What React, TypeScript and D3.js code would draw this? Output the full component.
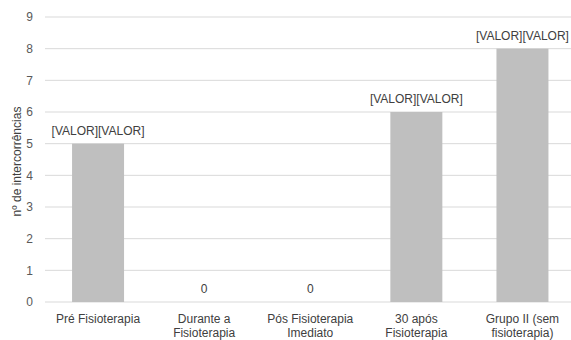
import React from "react";
import * as d3 from "d3";

const categories: string[][] = [
  ["Pré Fisioterapia"],
  ["Durante a", "Fisioterapia"],
  ["Pós Fisioterapia", "Imediato"],
  ["30 após", "Fisioterapia"],
  ["Grupo II (sem", "fisioterapia)"],
];
const values = [5, 0, 0, 6, 8];
const dataLabels = ["[VALOR][VALOR]", "0", "0", "[VALOR][VALOR]", "[VALOR][VALOR]"];
const yTicks = [0, 1, 2, 3, 4, 5, 6, 7, 8, 9];
const yTitle = "nº de intercorrências";

export default function App() {
  const W = 571, H = 340;
  const left = 45, right = 575.5, top = 17, bottom = 302;
  const x = d3.scaleBand<number>().domain(d3.range(values.length)).range([left, right]).paddingInner(0.51).paddingOuter(0.255);
  const y = d3.scaleLinear().domain([0, 9]).range([bottom, top]);
  const font = "'Liberation Sans', Arial, sans-serif";
  const tc = "#595959";
  return (
    <svg width={W} height={H} style={{ position: "absolute", left: 0, top: 0 }} fontFamily={font}>
      <rect width={W} height={H} fill="#fff" />
      {yTicks.map((t) => (
        <g key={t}>
          <line x1={left} x2={W} y1={y(t)} y2={y(t)} stroke="#d9d9d9" strokeWidth={1} />
          <text x={33} y={y(t)} dy="0.35em" textAnchor="end" fontSize={12} fill={tc}>{t}</text>
        </g>
      ))}
      {values.map((v, i) => (
        <rect key={i} x={x(i)!} width={x.bandwidth()} y={y(v)} height={y(0) - y(v)} fill="#bfbfbf" />
      ))}
      {values.map((v, i) => (
        <text key={i} x={x(i)! + x.bandwidth() / 2} y={y(v) - 9} textAnchor="middle" fontSize={12} fill="#404040">{dataLabels[i]}</text>
      ))}
      {categories.map((lines, i) => (
        <text key={i} x={x(i)! + x.bandwidth() / 2} y={323} textAnchor="middle" fontSize={12} fill="#404040">
          {lines.map((l, j) => (
            <tspan key={j} x={x(i)! + x.bandwidth() / 2} dy={j === 0 ? 0 : 14}>{l}</tspan>
          ))}
        </text>
      ))}
      <text transform={`translate(21,161.5) rotate(-90)`} textAnchor="middle" fontSize={12} fill="#404040">{yTitle}</text>
    </svg>
  );
}
